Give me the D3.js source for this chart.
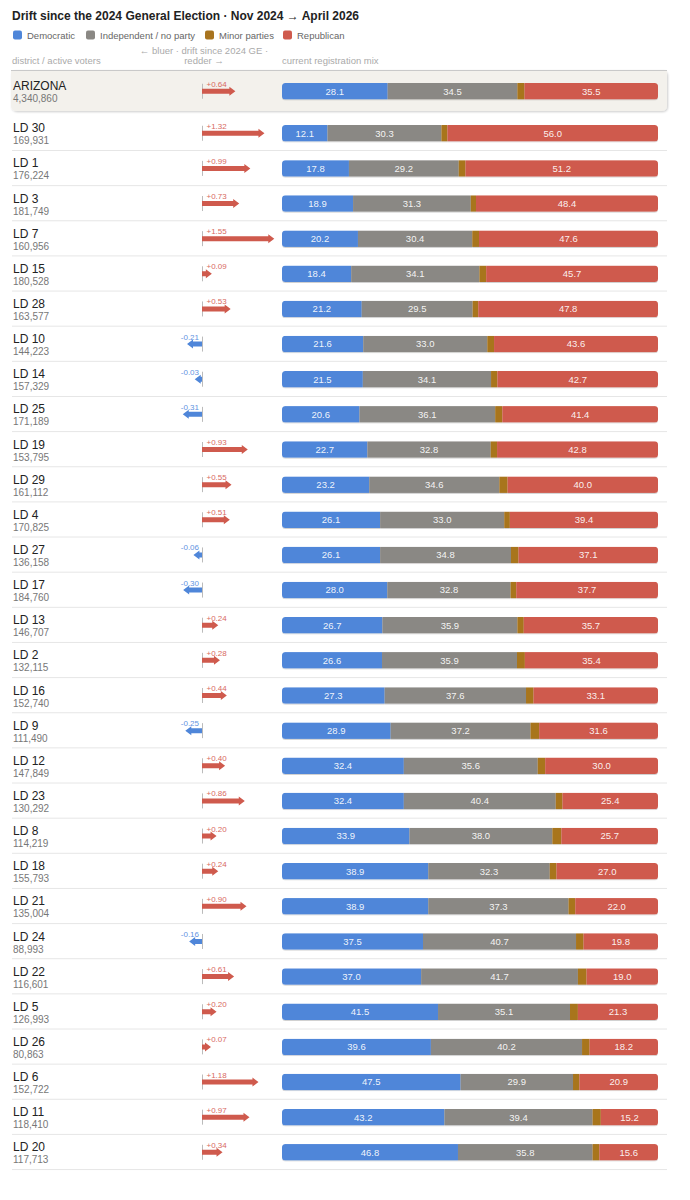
<!DOCTYPE html>
<html><head><meta charset="utf-8">
<script src="https://cdn.jsdelivr.net/npm/d3@7"></script>
<style>body{margin:0;background:#fff;font-family:"Liberation Sans",Arial,sans-serif}</style>
</head><body><svg id="c" width="690" height="1200"></svg>
<script>
const districts = ["LD 30","LD 1","LD 3","LD 7","LD 15","LD 28","LD 10","LD 14","LD 25","LD 19","LD 29","LD 4","LD 27","LD 17","LD 13","LD 2","LD 16","LD 9","LD 12","LD 23","LD 8","LD 18","LD 21","LD 24","LD 22","LD 5","LD 26","LD 6","LD 11","LD 20"];
const voters = [169931,176224,181749,160956,180528,163577,144223,157329,171189,153795,161112,170825,136158,184760,146707,132115,152740,111490,147849,130292,114219,155793,135004,88993,116601,126993,80863,152722,118410,117713];
const drift = [1.32,0.99,0.73,1.55,0.09,0.53,-0.21,-0.03,-0.31,0.93,0.55,0.51,-0.06,-0.30,0.24,0.28,0.44,-0.25,0.40,0.86,0.20,0.24,0.90,-0.16,0.61,0.20,0.07,1.18,0.97,0.34];
const dem = [12.1,17.8,18.9,20.2,18.4,21.2,21.6,21.5,20.6,22.7,23.2,26.1,26.1,28.0,26.7,26.6,27.3,28.9,32.4,32.4,33.9,38.9,38.9,37.5,37.0,41.5,39.6,47.5,43.2,46.8];
const ind = [30.3,29.2,31.3,30.4,34.1,29.5,33.0,34.1,36.1,32.8,34.6,33.0,34.8,32.8,35.9,35.9,37.6,37.2,35.6,40.4,38.0,32.3,37.3,40.7,41.7,35.1,40.2,29.9,39.4,35.8];
const rep = [56.0,51.2,48.4,47.6,45.7,47.8,43.6,42.7,41.4,42.8,40.0,39.4,37.1,37.7,35.7,35.4,33.1,31.6,30.0,25.4,25.7,27.0,22.0,19.8,19.0,21.3,18.2,20.9,15.2,15.6];
const stateRow = {name:"ARIZONA", voters:4340860, drift:0.64, dem:28.1, ind:34.5, rep:35.5};
const legendLabels = ["Democratic","Independent / no party","Minor parties","Republican"];
const colors = ["#4f86d9","#8a8884","#a8741f","#cf5a4d"];

const rows = districts.map((n,i)=>({name:n, voters:voters[i], drift:drift[i], dem:dem[i], ind:ind[i], rep:rep[i]}));

const svg = d3.select("#c");
const defs = svg.append("defs");
const sh = defs.append("filter").attr("id","sh").attr("x","-5%").attr("y","-30%").attr("width","110%").attr("height","170%");
sh.append("feDropShadow").attr("dx",0).attr("dy",1).attr("stdDeviation",0.6).attr("flood-color","#000").attr("flood-opacity",0.18);
const bsh = defs.append("filter").attr("id","bsh").attr("x","-5%").attr("y","-10%").attr("width","110%").attr("height","130%");
bsh.append("feDropShadow").attr("dx",1).attr("dy",1).attr("stdDeviation",0.8).attr("flood-color","#000").attr("flood-opacity",0.2);

// title
svg.append("text").attr("x",12).attr("y",20).attr("font-size",12).attr("font-weight","bold").attr("fill","#222")
  .text("Drift since the 2024 General Election · Nov 2024 → April 2026");

// legend
const legX = [13,86,205,283];
legendLabels.forEach((l,i)=>{
  const g = svg.append("g").attr("transform",`translate(${legX[i]},30.5)`);
  g.append("rect").attr("width",9).attr("height",9).attr("rx",2).attr("fill",colors[i]);
  g.append("text").attr("x",14).attr("y",8).attr("font-size",9.5).attr("fill","#666").text(l);
});

// headers
svg.append("text").attr("x",12).attr("y",64).attr("font-size",9.5).attr("fill","#aaa").text("district / active voters");
svg.append("text").attr("x",204).attr("y",54).attr("font-size",9.5).attr("fill","#aaa").attr("text-anchor","middle").text("← bluer · drift since 2024 GE ·");
svg.append("text").attr("x",204).attr("y",64).attr("font-size",9.5).attr("fill","#aaa").attr("text-anchor","middle").text("redder →");
svg.append("text").attr("x",282).attr("y",64).attr("font-size",9.5).attr("fill","#aaa").text("current registration mix");

// state highlight box
svg.append("rect").attr("x",11).attr("y",70).attr("width",656).attr("height",41).attr("rx",5).attr("fill","#f3f1ec").attr("filter","url(#bsh)");
svg.append("rect").attr("x",11).attr("y",70).attr("width",656).attr("height",8).attr("fill","#f3f1ec");
svg.append("line").attr("x1",11).attr("x2",667).attr("y1",70.5).attr("y2",70.5).attr("stroke","#c9c9c9");

const xBar = d3.scaleLinear().domain([0,100]).range([282,658]);
const xDrift = d3.scaleLinear().domain([-1.55,1.55]).range([202-66.3,202+66.3]);
const yBand = d3.scaleBand().domain(districts).range([115,115+35.14*30]);
const barH = 16.5;

function drawRow(d, top, idx){
  const g = svg.append("g");
  const c = top + barH/2;
  g.append("text").attr("x",13).attr("y",top+7.3).attr("font-size",12).attr("fill","#222").text(d.name);
  g.append("text").attr("x",13).attr("y",top+19.3).attr("font-size",10).attr("fill","#777").text(d3.format(",")(d.voters));
  // drift
  const x0 = xDrift(0), x1 = xDrift(d.drift);
  g.append("line").attr("x1",x0+0.5).attr("x2",x0+0.5).attr("y1",c-7.5).attr("y2",c+7.5).attr("stroke","#bbb").attr("stroke-width",1);
  const pos = d.drift >= 0;
  const col = pos ? colors[3] : colors[0];
  const dir = pos ? 1 : -1;
  g.append("path").attr("fill",col)
    .attr("d",`M${x0},${c-2.5}L${x1},${c-2.5}L${x1},${c-4.5}L${x1+6*dir},${c}L${x1},${c+4.5}L${x1},${c+2.5}L${x0},${c+2.5}Z`);
  g.append("text").attr("x",pos? x0+4.5 : x0-3).attr("y",c-4.5).attr("font-size",8)
    .attr("text-anchor",pos?"start":"end").attr("fill",pos?"#d86a5f":"#5f93df")
    .text((pos?"+":"-")+Math.abs(d.drift).toFixed(2));
  // stacked bar
  const minor = +(100 - d.dem - d.ind - d.rep).toFixed(2);
  const segs = [d.dem, d.ind, minor, d.rep];
  const cid = "clip"+idx;
  defs.append("clipPath").attr("id",cid).append("rect").attr("x",xBar(0)).attr("y",top).attr("width",xBar(100)-xBar(0)).attr("height",barH).attr("rx",3.5);
  const bg = g.append("g").attr("filter","url(#sh)").append("g").attr("clip-path",`url(#${cid})`);
  let acc = 0;
  segs.forEach((v,i)=>{
    bg.append("rect").attr("x",xBar(acc)).attr("y",top).attr("width",xBar(acc+v)-xBar(acc)).attr("height",barH).attr("fill",colors[i]);
    if(i!==2){
      g.append("text").attr("x",(xBar(acc)+xBar(acc+v))/2).attr("y",c+3.4).attr("font-size",9.5)
        .attr("text-anchor","middle").attr("fill","#fff").attr("fill-opacity",0.92).text(v.toFixed(1));
    }
    acc += v;
  });
}

drawRow(stateRow, 83, "s");
rows.forEach((d,i)=>{
  const top = yBand(d.name) + 10;
  svg.append("line").attr("x1",12).attr("x2",667).attr("y1",yBand(d.name)+35.5).attr("y2",yBand(d.name)+35.5).attr("stroke","#e6e6e6");
  drawRow(d, top, i);
});
</script></body></html>
